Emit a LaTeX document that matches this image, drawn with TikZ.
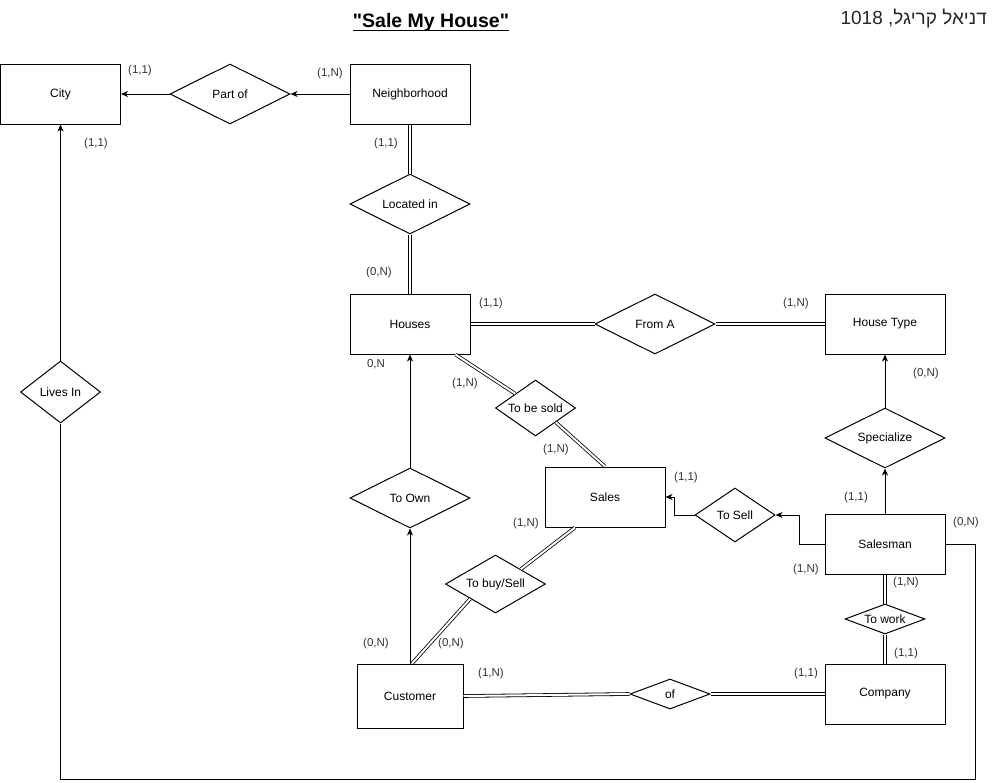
\documentclass[tikz,border=0pt]{standalone}
\usepackage{fontspec}
\setmainfont{Liberation Sans}
\newfontfamily\plainfont{Liberation Sans}
\newfontfamily\hebfont[Script=Hebrew]{Liberation Sans}
\TeXXeTstate=1
\usetikzlibrary{shapes.geometric,arrows.meta,calc}
\begin{document}
\begin{tikzpicture}[x=1pt,y=-1pt,
  ent/.style={draw, line width=1pt, minimum width=120pt, minimum height=60pt, inner sep=0pt, font=\fontsize{12}{14}\selectfont},
  rel/.style={draw, diamond, line width=1pt, inner sep=0pt, label={[font=\fontsize{12}{14}\selectfont]center:#1}},
  card/.style={font=\fontsize{11.5}{13}\selectfont, text=black!80, inner sep=0pt},
  arr/.style={line width=1pt, -{Stealth[length=7pt,width=6pt,inset=2pt]}},
  dbl/.style={double, double distance=2pt, line width=0.8pt},
  ln/.style={line width=1pt}]
\useasboundingbox (0,0) rectangle (996,782);

% title and author
\node[inner sep=0pt, font=\fontsize{19.5}{22}\plainfont\bfseries, anchor=base] (title) at (431,27) {"Sale My House"};
\draw[line width=1pt] ($(title.base west)+(0,3)$) -- ($(title.base east)+(0,3)$);
\node[inner sep=0pt, font=\fontsize{19}{23}\selectfont\hebfont, anchor=base east, text=black!85] (author) at (987,24) {\beginR דניאל קריגל, \beginL 1018\endL\endR};

% entities
\node[ent] (city) at (60.5,94) {City};
\node[ent] (neigh) at (410,94) {Neighborhood};
\node[ent] (houses) at (410,324) {Houses};
\node[ent] (htype) at (885,324) {House Type};
\node[ent] (sales) at (605,497) {Sales};
\node[ent] (salesman) at (885,544) {Salesman};
\node[ent, minimum width=106pt, minimum height=64pt] (cust) at (410,696) {Customer};
\node[ent] (company) at (885,694) {Company};

% relationships
\node[rel=Part of, minimum width=120pt, minimum height=60pt] (partof) at (230,94) {};
\node[rel=Located in, minimum width=120pt, minimum height=60pt] (loc) at (410,204) {};
\node[rel=From A, minimum width=120pt, minimum height=60pt] (froma) at (655,324) {};
\node[rel=Specialize, minimum width=120pt, minimum height=60pt] (spec) at (885,438) {};
\node[rel=To Own, minimum width=120pt, minimum height=60pt] (toown) at (410,498) {};
\node[rel=To be sold, minimum width=80pt, minimum height=56pt] (tobesold) at (535.5,408) {};
\node[rel=To Sell, minimum width=80pt, minimum height=54pt] (tosell) at (735,515) {};
\node[rel=To buy/Sell, minimum width=100pt, minimum height=58pt] (tobuy) at (495.5,584) {};
\node[rel=of, minimum width=80pt, minimum height=30pt] (of) at (670,694) {};
\node[rel=To work, minimum width=80pt, minimum height=30pt] (towork) at (885,619) {};
\node[rel=Lives In, minimum width=80pt, minimum height=62pt] (lives) at (60.5,392) {};

% arrows
\draw[arr] (neigh.west) -- (partof.east);
\draw[arr] (partof.west) -- (city.east);
\draw[arr] (lives.north) -- (city.south);
\draw[arr] (spec.north) -- (htype.south);
\draw[arr] (salesman.north) -- (spec.south);
\draw[arr] (toown.north) -- (houses.south);
\draw[arr] (cust.north) -- (toown.south);
\draw[arr] (salesman.west) -- ++(-25,0) |- (tosell.east);
\draw[arr] (tosell.west) -- ++(-20,0) |- (sales.east);

% plain line
\coordinate (br) at (975,779);
\draw[ln] (lives.south) |- (br) |- (salesman.east);

% double lines
\draw[dbl] (neigh.south) -- (loc.north);
\draw[dbl] (loc.south) -- (houses.north);
\draw[dbl] (houses.east) -- (froma.west);
\draw[dbl] (froma.east) -- (htype.west);
\draw[dbl] ($(houses.south east)+(-15,0)$) -- (tobesold.north west);
\draw[dbl] (tobesold.south east) -- (sales.north);
\draw[dbl] ($(sales.south)+(-30,0)$) -- (tobuy.north east);
\draw[dbl] (tobuy.south west) -- ($(cust.north)+(2,0)$);
\draw[dbl] (cust.east) -- (of.west);
\draw[dbl] (of.east) -- (company.west);
\draw[dbl] (salesman.south) -- (towork.north);
\draw[dbl] (towork.south) -- (company.north);

% cardinalities
\node[card] (c1) at (140,71) {(1,1)};
\node[card] (c2) at (330,74) {(1,N)};
\node[card] (c3) at (96,144) {(1,1)};
\node[card] (c4) at (386,144) {(1,1)};
\node[card] (c5) at (379,273) {(0,N)};
\node[card] (c6) at (491,304) {(1,1)};
\node[card] (c7) at (796,304) {(1,N)};
\node[card] (c8) at (376,364) {0,N};
\node[card] (c9) at (465,384) {(1,N)};
\node[card] (c10) at (556,450) {(1,N)};
\node[card] (c11) at (926,374) {(0,N)};
\node[card] (c12) at (686,478) {(1,1)};
\node[card] (c13) at (856,498) {(1,1)};
\node[card] (c14) at (966,523) {(0,N)};
\node[card] (c15) at (806,570) {(1,N)};
\node[card] (c16) at (906,583) {(1,N)};
\node[card] (c17) at (906,654) {(1,1)};
\node[card] (c18) at (806,674) {(1,1)};
\node[card] (c19) at (526,524) {(1,N)};
\node[card] (c20) at (376,644) {(0,N)};
\node[card] (c21) at (451,644) {(0,N)};
\node[card] (c22) at (491,674) {(1,N)};
\end{tikzpicture}
\end{document}
